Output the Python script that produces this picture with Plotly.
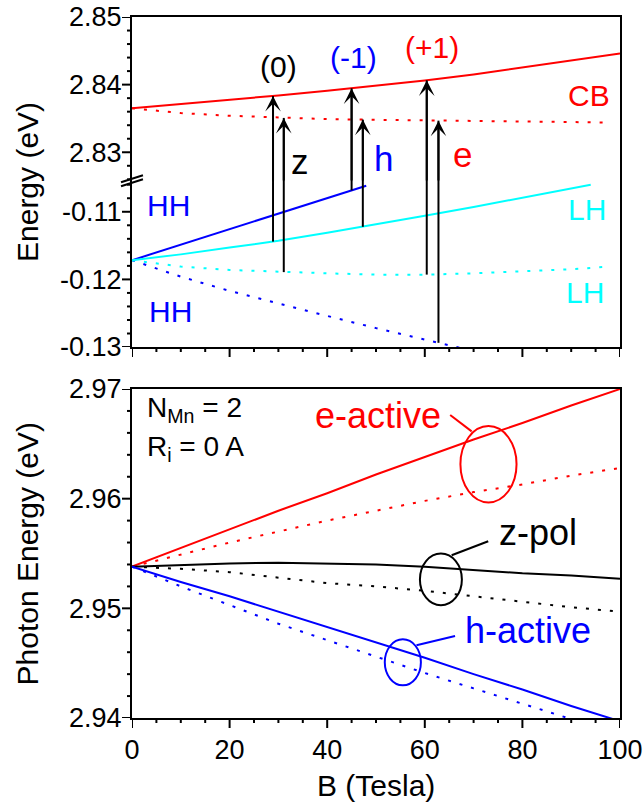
import numpy as np
import plotly.graph_objects as go

# ---------------- top panel: band edges (eV) vs B (Tesla) ----------------
b_cb_solid = [0, 10, 20, 30, 40, 50, 60, 70, 80, 90, 100]
cb_solid = [2.8365, 2.8371, 2.8377, 2.8384, 2.8391, 2.8398, 2.8406, 2.8415, 2.8425, 2.8435, 2.8446]
b_cb_dot = [0, 10, 20, 30, 40, 50, 60, 70, 80, 90, 98]
cb_dot = [2.8365, 2.8358, 2.8354, 2.8351, 2.8349, 2.8348, 2.8347, 2.8346, 2.8345, 2.8344, 2.8344]

b_hh_solid = [0, 48]
hh_solid = [-0.11716, -0.10615]
b_lh_solid = [0, 10, 20, 30, 40, 50, 60, 70, 80, 94]
lh_solid = [-0.11716, -0.1163, -0.1153, -0.1143, -0.1131, -0.1119, -0.1106, -0.1093, -0.1079, -0.1060]
b_lh_dot = [0, 10, 20, 30, 40, 50, 60, 70, 80, 90, 98]
lh_dot = [-0.11716, -0.1181, -0.1186, -0.1189, -0.1191, -0.1193, -0.1193, -0.1191, -0.1188, -0.1185, -0.1181]
b_hh_dot = [0, 10, 20, 30, 40, 50, 60, 70]
hh_dot = [-0.11716, -0.1196, -0.1217, -0.1236, -0.1254, -0.1272, -0.1289, -0.1306]

# optical transitions: field, starting valence level, final conduction level
arrow_b = [28.9, 31.1, 45.0, 47.3, 60.4, 62.8]
arrow_from = ["lh_solid", "lh_dot", "hh_solid", "lh_solid", "lh_dot", "hh_dot"]
arrow_to = ["cb_solid", "cb_dot", "cb_solid", "cb_dot", "cb_solid", "cb_dot"]

# ---------------- bottom panel: photon energies (eV) ----------------
b_ph = [0, 10, 20, 30, 40, 50, 60, 70, 80, 90, 100]
e_act_solid = [2.9538, 2.9555, 2.9572, 2.9589, 2.9605, 2.9622, 2.9638, 2.9654, 2.9669, 2.9685, 2.9700]
e_act_dot = [2.9538, 2.9549, 2.9560, 2.9570, 2.9580, 2.9589, 2.9598, 2.9606, 2.9613, 2.9621, 2.9628]
z_pol_solid = [2.9538, 2.95395, 2.9541, 2.95415, 2.9541, 2.9540, 2.9538, 2.9535, 2.9532, 2.9530, 2.9527]
z_pol_dot = [2.9538, 2.9536, 2.9533, 2.9528, 2.9523, 2.9520, 2.9516, 2.9511, 2.9506, 2.9501, 2.9497]
h_act_solid = [2.9538, 2.9524, 2.9511, 2.9497, 2.9483, 2.9469, 2.9455, 2.9440, 2.9426, 2.9411, 2.9397]
h_act_dot = [2.9538, 2.9520, 2.9503, 2.9486, 2.9471, 2.9456, 2.9441, 2.9427, 2.9413, 2.9399, 2.9385]

# axis tick positions
x_major = [0, 20, 40, 60, 80, 100]
x_minor = [5, 10, 15, 25, 30, 35, 45, 50, 55, 65, 70, 75, 85, 90, 95]
y1_major = [2.83, 2.84, 2.85]
y2_major = [-0.13, -0.12, -0.11]
y2_labels = ["-0.13", "-0.12", "-0.11"]
y3_major = [2.94, 2.95, 2.96, 2.97]

RED, BLUE, CYAN, BLACK = "#ff0000", "#0000ff", "#00ffff", "#000000"
FONT = "Liberation Sans, Arial, Helvetica, sans-serif"
DOT = "3px,9px"

W, H = 643, 808
MARGIN = dict(l=132, r=23, t=17, b=90)
PLOT_W = W - MARGIN["l"] - MARGIN["r"]
PLOT_H = H - MARGIN["t"] - MARGIN["b"]

DOM1 = [0.7646, 1.0]     # conduction band section
DOM2 = [0.5292, 0.7646]  # valence band section
DOM3 = [0.0, 0.4693]     # photon energies
Y1_RANGE = [2.8256, 2.85]
Y2_RANGE = [-0.13, -0.1056]
Y3_RANGE = [2.94, 2.97]

fig = go.Figure()


def line(x, y, color, dash, xa, ya):
    fig.add_trace(go.Scatter(x=x, y=y, mode="lines", xaxis=xa, yaxis=ya,
                             line=dict(color=color, width=2, dash=dash),
                             hoverinfo="skip", showlegend=False))


# valence levels (lower section)
line(b_hh_solid, hh_solid, BLUE, "solid", "x2", "y2")
line(b_hh_dot, hh_dot, BLUE, DOT, "x2", "y2")
line(b_lh_dot, lh_dot, CYAN, DOT, "x2", "y2")
line(b_lh_solid, lh_solid, CYAN, "solid", "x2", "y2")
# conduction levels (upper section)
line(b_cb_dot, cb_dot, RED, DOT, "x", "y")
line(b_cb_solid, cb_solid, RED, "solid", "x", "y")

# photon energies
line(b_ph, e_act_dot, RED, DOT, "x3", "y3")
line(b_ph, e_act_solid, RED, "solid", "x3", "y3")
line(b_ph, z_pol_dot, BLACK, DOT, "x3", "y3")
line(b_ph, z_pol_solid, BLACK, "solid", "x3", "y3")
line(b_ph, h_act_dot, BLUE, DOT, "x3", "y3")
line(b_ph, h_act_solid, BLUE, "solid", "x3", "y3")

levels = {
    "cb_solid": (b_cb_solid, cb_solid), "cb_dot": (b_cb_dot, cb_dot),
    "hh_solid": (b_hh_solid, hh_solid), "hh_dot": (b_hh_dot, hh_dot),
    "lh_solid": (b_lh_solid, lh_solid), "lh_dot": (b_lh_dot, lh_dot),
}

annotations = []
# transition arrows crossing the axis break: shaft drawn in both sections, head on top
for b, lo, hi in zip(arrow_b, arrow_from, arrow_to):
    e_lo = float(np.interp(b, *levels[lo]))
    e_hi = float(np.interp(b, *levels[hi]))
    line([b, b], [e_lo, Y2_RANGE[1]], BLACK, "solid", "x2", "y2")
    line([b, b], [Y1_RANGE[0], e_hi], BLACK, "solid", "x", "y")
    annotations.append(dict(x=b, y=e_hi, ax=b, ay=Y1_RANGE[0], xref="x", yref="y",
                            axref="x", ayref="y", text="", showarrow=True,
                            arrowhead=3, arrowsize=1.3, arrowwidth=2,
                            arrowcolor=BLACK, standoff=0, startstandoff=0))


def label(text, x, y, color, size, xref, yref, xanchor="center"):
    annotations.append(dict(text=text, x=x, y=y, xref=xref, yref=yref,
                            showarrow=False, xanchor=xanchor, yanchor="middle",
                            font=dict(family=FONT, size=size, color=color)))


label("(0)", 30.1, 2.8427, BLACK, 30, "x", "y")
label("(-1)", 45.4, 2.8440, BLUE, 30, "x", "y")
label("(+1)", 61.5, 2.8455, RED, 30, "x", "y")
label("CB", 93.6, 2.8384, RED, 30, "x", "y")
label("z", 34.4, 2.8286, BLACK, 35, "x", "y")
label("h", 51.5, 2.8291, BLUE, 35, "x", "y")
label("e", 67.8, 2.8296, RED, 35, "x", "y")
label("HH", 7.4, -0.1091, BLUE, 30, "x2", "y2")
label("HH", 7.8, -0.1247, BLUE, 30, "x2", "y2")
label("LH", 93.2, -0.1096, CYAN, 30, "x2", "y2")
label("LH", 92.8, -0.1219, CYAN, 30, "x2", "y2")

label("N<sub>Mn</sub> = 2", 2.7, 2.9681, BLACK, 28, "x3", "y3", "left")
label("R<sub>i</sub> = 0 A", 2.7, 2.9646, BLACK, 28, "x3", "y3", "left")
label("e-active", 50.4, 2.96763, RED, 36, "x3", "y3")
label("z-pol", 83.1, 2.95695, BLACK, 36, "x3", "y3")
label("h-active", 81.2, 2.94800, BLUE, 36, "x3", "y3")

# axis titles
annotations.append(dict(text="Energy (eV)", x=-0.2152, y=DOM2[1], xref="paper", yref="paper",
                        textangle=-90, showarrow=False, xanchor="center", yanchor="middle",
                        font=dict(family=FONT, size=30, color=BLACK)))
annotations.append(dict(text="Photon Energy (eV)", x=-0.2152, y=0.2347, xref="paper", yref="paper",
                        textangle=-90, showarrow=False, xanchor="center", yanchor="middle",
                        font=dict(family=FONT, size=30, color=BLACK)))
annotations.append(dict(text="B (Tesla)", x=0.5, y=-0.0956, xref="paper", yref="paper",
                        showarrow=False, xanchor="center", yanchor="middle",
                        font=dict(family=FONT, size=30, color=BLACK)))

# ellipses grouping solid/dotted pairs and their leader lines
shapes = []
for (x0, x1, y0, y1), col in [((67.3, 78.8, 2.95966, 2.96662), RED),
                              ((59.0, 67.6, 2.95028, 2.95500), BLACK),
                              ((51.8, 59.2, 2.94298, 2.94718), BLUE)]:
    shapes.append(dict(type="circle", xref="x3", yref="y3", x0=x0, x1=x1, y0=y0, y1=y1,
                       line=dict(color=col, width=2)))
for (x0, y0, x1, y1), col in [((65.2, 2.96763, 69.6, 2.96614), RED),
                              ((65.5, 2.95484, 73.0, 2.95612), BLACK),
                              ((58.3, 2.94664, 66.2, 2.94748), BLUE)]:
    shapes.append(dict(type="line", xref="x3", yref="y3", x0=x0, y0=y0, x1=x1, y1=y1,
                       line=dict(color=col, width=2)))

# axis-break marks on the left spine
for dy in (0.0, 0.0057):
    shapes.append(dict(type="line", xref="paper", yref="paper",
                       x0=-0.0225, y0=0.7586 + dy, x1=0.0225, y1=0.7686 + dy,
                       line=dict(color=BLACK, width=2)))


# outward tick marks: value on the axis scale, length in px converted to domain fraction
def yticks(yref, xref, vals, length):
    for v in vals:
        shapes.append(dict(type="line", xref=xref + " domain", yref=yref,
                           x0=-length / PLOT_W, x1=0, y0=v, y1=v,
                           line=dict(color=BLACK, width=2)))


def xticks(xref, yref, dom, vals, length):
    frac = length / (PLOT_H * (dom[1] - dom[0]))
    for v in vals:
        shapes.append(dict(type="line", xref=xref, yref=yref + " domain",
                           y0=-frac, y1=0, x0=v, x1=v,
                           line=dict(color=BLACK, width=2)))


def minor_vals(lo, hi, step, majors):
    vals = np.round(np.arange(lo, hi + step / 2, step), 4)
    return [float(v) for v in vals if v > lo - 1e-9 and v < hi + 1e-9
            and min(abs(v - m) for m in majors) > 1e-6]


yticks("y", "x", y1_major, 10)
yticks("y", "x", minor_vals(2.826, Y1_RANGE[1], 0.002, y1_major), 5)
yticks("y2", "x2", y2_major, 10)
yticks("y2", "x2", minor_vals(Y2_RANGE[0], -0.106, 0.002, y2_major), 5)
yticks("y3", "x3", y3_major, 10)
yticks("y3", "x3", minor_vals(Y3_RANGE[0], Y3_RANGE[1], 0.002, y3_major), 5)
for xa, ya, dom in (("x2", "y2", DOM2), ("x3", "y3", DOM3)):
    xticks(xa, ya, dom, x_major, 10)
    xticks(xa, ya, dom, x_minor, 5)

tickfont = dict(family=FONT, size=27, color=BLACK)
common_x = dict(range=[0, 100], showgrid=False, zeroline=False, linecolor=BLACK,
                linewidth=2, automargin=False)
common_y = dict(showgrid=False, zeroline=False, linecolor=BLACK, linewidth=2, showline=True,
                mirror=True, ticks="outside", ticklen=3, tickwidth=2,
                tickcolor="rgba(0,0,0,0)", tickfont=tickfont, automargin=False)

fig.update_layout(
    width=W, height=H,
    margin=MARGIN,
    paper_bgcolor="white", plot_bgcolor="white",
    showlegend=False,
    xaxis=dict(**common_x, domain=[0, 1], anchor="y", side="top", showline=True,
               ticks="", showticklabels=False, matches="x3"),
    yaxis=dict(**common_y, domain=DOM1, anchor="x", range=Y1_RANGE,
               tickmode="array", tickvals=y1_major, tickformat=".2f"),
    xaxis2=dict(**common_x, domain=[0, 1], anchor="y2", showline=True, ticks="",
                showticklabels=False, matches="x3"),
    yaxis2=dict(**common_y, domain=DOM2, anchor="x2", range=Y2_RANGE,
                tickmode="array", tickvals=y2_major, ticktext=y2_labels),
    xaxis3=dict(**common_x, domain=[0, 1], anchor="y3", showline=True, mirror=True,
                ticks="outside", ticklen=7, tickwidth=2, tickcolor="rgba(0,0,0,0)",
                tickmode="array", tickvals=x_major, tickfont=tickfont),
    yaxis3=dict(**common_y, domain=DOM3, anchor="x3", range=Y3_RANGE,
                tickmode="array", tickvals=y3_major, tickformat=".2f"),
    annotations=annotations,
    shapes=shapes,
)

fig.write_html("out.html")
